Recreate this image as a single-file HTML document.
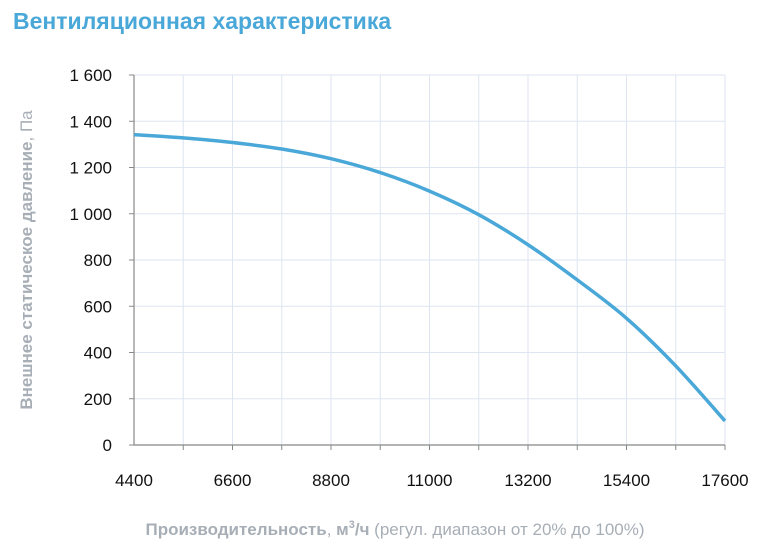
<!DOCTYPE html>
<html><head><meta charset="utf-8"><style>
body{margin:0;background:#fff;width:763px;height:552px;overflow:hidden;font-family:"Liberation Sans",sans-serif}
</style></head><body>
<svg width="763" height="552" xmlns="http://www.w3.org/2000/svg">
<text x="13" y="29" font-size="23" font-weight="bold" fill="#4aa8d9">Вентиляционная характеристика</text>
<g id="grid"></g>
<g id="axes"></g>
<path id="curve" fill="none" stroke="#4aa8d9" stroke-width="3.5" stroke-linejoin="round"/>
<text transform="translate(32,260) rotate(-90)" text-anchor="middle" font-size="17" font-weight="bold" fill="#a7aeb6">Внешнее статическое давление<tspan font-weight="normal">, Па</tspan></text>
<text x="395" y="535" text-anchor="middle" font-size="17" fill="#a7aeb6"><tspan font-weight="bold">Производительность</tspan>, <tspan font-weight="bold">м<tspan font-size="11" dy="-7">3</tspan><tspan dy="7">/ч</tspan></tspan> (регул. диапазон от 20% до 100%)</text>
</svg>
<script>
const flows=[4400,5500,6600,7700,8800,9900,11000,12100,13200,14300,15400,16500,17600];
const pressures=[1342,1328,1308,1280,1238,1178,1098,996,866,714,548,342,104];
const xTicks=[4400,6600,8800,11000,13200,15400,17600];
const yTicks=[0,200,400,600,800,1000,1200,1400,1600];
const yLabels=["0","200","400","600","800","1 000","1 200","1 400","1 600"];
const X0=134,X1=725,Y0=445,Y1=75;
const sx=v=>X0+(v-4400)/(17600-4400)*(X1-X0);
const sy=v=>Y0-v/1600*(Y0-Y1);
const NS="http://www.w3.org/2000/svg";
const grid=document.getElementById('grid'),axes=document.getElementById('axes');
function mk(tag,attrs,parent,txt){const e=document.createElementNS(NS,tag);for(const k in attrs)e.setAttribute(k,attrs[k]);if(txt!==undefined)e.textContent=txt;parent.appendChild(e);return e;}
for(let v=5500;v<=17600;v+=1100){const l=mk('line',{x1:sx(v),x2:sx(v),y1:Y1,y2:Y0,stroke:'#dde6f0','stroke-width':1},grid);


const t=mk('line',{x1:sx(v),x2:sx(v),y1:Y0,y2:Y0+5,stroke:'#888','stroke-width':1},axes);

}
yTicks.forEach((v,i)=>{if(v>0){const l=mk('line',{x1:X0,x2:X1,y1:sy(v),y2:sy(v),stroke:'#dde6f0','stroke-width':1},grid);

}
const tk=mk('line',{x1:X0-5,x2:X0,y1:sy(v),y2:sy(v),stroke:'#888'},axes);


const t=mk('text',{x:X0-22,y:sy(v)+6,'text-anchor':'end','font-size':17,fill:'#111'},axes,yLabels[i]);

});
xTicks.forEach(v=>{const t=mk('text',{x:sx(v),y:486,'text-anchor':'middle','font-size':17,fill:'#111'},axes,String(v));

});
const ax=mk('path',{d:`M${X0},${Y1} V${Y0} H${X1}`,fill:'none',stroke:'#888','stroke-width':1.2},axes);


let pts=flows.map((f,i)=>[sx(f),sy(pressures[i])]);
let d=`M${pts[0][0]},${pts[0][1]}`;
for(let i=0;i<pts.length-1;i++){const p0=pts[Math.max(0,i-1)],p1=pts[i],p2=pts[i+1],p3=pts[Math.min(pts.length-1,i+2)];
d+=` C${p1[0]+(p2[0]-p0[0])/6},${p1[1]+(p2[1]-p0[1])/6} ${p2[0]-(p3[0]-p1[0])/6},${p2[1]-(p3[1]-p1[1])/6} ${p2[0]},${p2[1]}`;}
document.getElementById('curve').setAttribute('d',d);
</script>
</body></html>
